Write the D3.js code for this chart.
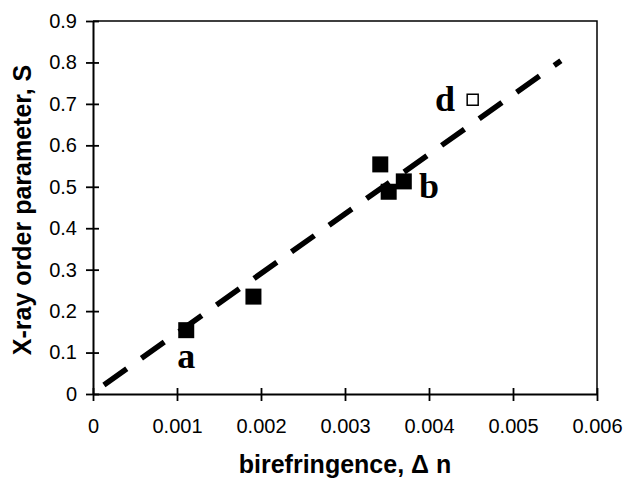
<!DOCTYPE html>
<html><head><meta charset="utf-8">
<script src="https://cdn.jsdelivr.net/npm/d3@7"></script>
<style>body{margin:0;background:#fff}svg{display:block}</style>
</head><body>
<svg id="c" width="626" height="479"></svg>
<script>
// Data
const filledX = [0.00111, 0.00191, 0.00342, 0.00352, 0.00370];
const filledY = [0.154, 0.235, 0.554, 0.488, 0.513];
const openX = [0.00452];
const openY = [0.710];
const fitX = [0.00013, 0.00557];
const fitY = [0.022, 0.804];
const labelText = ["a", "b", "d"];
const labelX = [0.00111, 0.00400, 0.00419];
const labelY = [0.063, 0.473, 0.683];
const xTicks = [0, 0.001, 0.002, 0.003, 0.004, 0.005, 0.006];
const yTicks = [0, 0.1, 0.2, 0.3, 0.4, 0.5, 0.6, 0.7, 0.8, 0.9];

const svg = d3.select("#c");
const L = 93, R = 597, T = 21, B = 394;
const x = d3.scaleLinear().domain([0, 0.006]).range([L, R]);
const y = d3.scaleLinear().domain([0, 0.9]).range([B, T]);

// frame (top & right)
svg.append("path").attr("d", `M${L},${T}H${R}V${B}`).attr("fill","none").attr("stroke","#000").attr("stroke-width",1.5);

const fmtX = d => d === 0 ? "0" : d3.format(".3f")(d);
const fmtY = d => d === 0 ? "0" : d3.format(".1f")(d);

const xa = svg.append("g").attr("transform", `translate(0,${B})`)
  .call(d3.axisBottom(x).tickValues(xTicks).tickFormat(fmtX).tickSizeInner(7).tickSizeOuter(0).tickPadding(18));
const ya = svg.append("g").attr("transform", `translate(${L},0)`)
  .call(d3.axisLeft(y).tickValues(yTicks).tickFormat(fmtY).tickSizeInner(7).tickSizeOuter(0).tickPadding(9));
[xa, ya].forEach(a => {
  a.select(".domain").attr("stroke","#000").attr("stroke-width",2);
  a.selectAll(".tick line").attr("stroke","#000").attr("stroke-width",1.8);
  a.selectAll("text").attr("font-family","'Liberation Sans', Arial, sans-serif").attr("font-size",20).attr("fill","#000");
});
// ticks cross the axis
xa.selectAll(".tick line").attr("y1",-6);
ya.selectAll(".tick line").attr("x1",6);

// fit line
svg.append("path")
  .datum(fitX.map((v,i)=>[v, fitY[i]]))
  .attr("d", d3.line().x(d=>x(d[0])).y(d=>y(d[1])))
  .attr("fill","none").attr("stroke","#000").attr("stroke-width",5.5)
  .attr("stroke-dasharray","28,18");

// filled squares
const s = 16;
svg.selectAll(".f").data(filledX.map((v,i)=>[v, filledY[i]])).enter().append("rect")
  .attr("x", d=>x(d[0])-s/2).attr("y", d=>y(d[1])-s/2).attr("width", s).attr("height", s).attr("fill","#000");
// open square
const so = 11;
svg.selectAll(".o").data(openX.map((v,i)=>[v, openY[i]])).enter().append("rect")
  .attr("x", d=>x(d[0])-so/2).attr("y", d=>y(d[1])-so/2).attr("width", so).attr("height", so)
  .attr("fill","#fff").attr("stroke","#000").attr("stroke-width",1.5);

// letter labels
svg.selectAll(".lbl").data(labelText).enter().append("text")
  .attr("x", (d,i)=>x(labelX[i])).attr("y", (d,i)=>y(labelY[i]))
  .attr("text-anchor","middle")
  .attr("font-family","'Liberation Serif', 'Times New Roman', serif").attr("font-weight","bold").attr("font-size",36)
  .text(d=>d);

// axis titles
svg.append("text").attr("x", 345).attr("y", 473).attr("text-anchor","middle")
  .attr("font-family","'Liberation Sans', Arial, sans-serif").attr("font-weight","bold").attr("font-size",25)
  .text("birefringence, \u0394 n");
svg.append("text").attr("transform","translate(31,210) rotate(-90)").attr("text-anchor","middle")
  .attr("font-family","'Liberation Sans', Arial, sans-serif").attr("font-weight","bold").attr("font-size",25)
  .text("X-ray order parameter, S");
</script>
</body></html>
